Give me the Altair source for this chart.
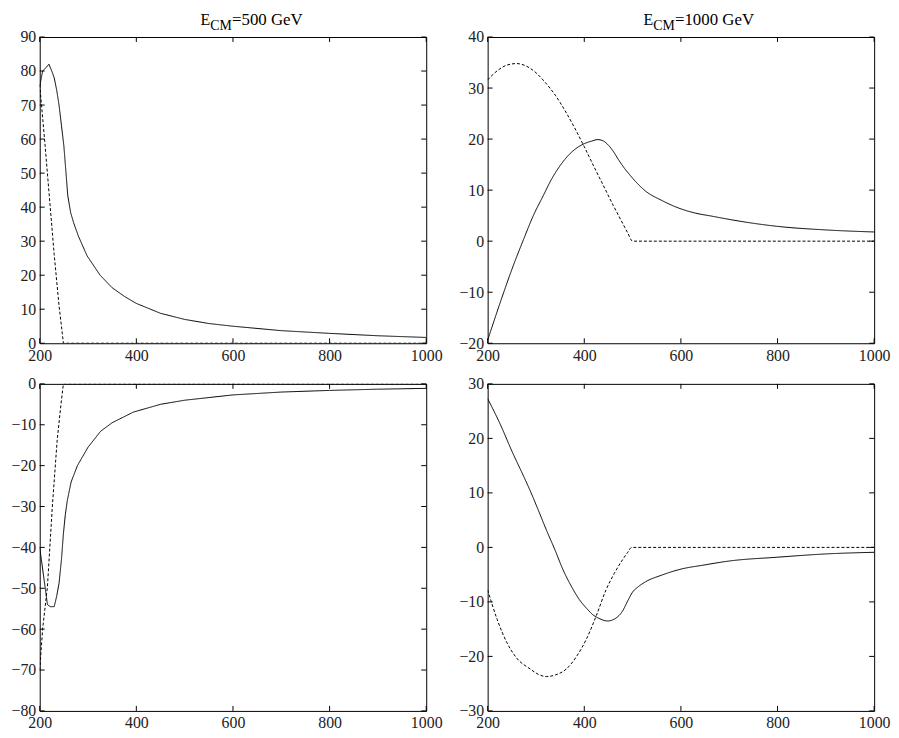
import altair as alt
import pandas as pd

# ---------------- data ----------------
x_ticks = [200, 400, 600, 800, 1000]
energies = ["500", "1000"]

# top-left (E_CM = 500 GeV)
p1_solid_x = [200, 206, 213, 219, 225, 230, 235, 240, 245, 250, 255, 258, 264, 270, 280, 298, 325, 350, 375, 400, 450, 500, 550, 600, 700, 800, 900, 1000]
p1_solid_y = [75.5, 80, 81, 82, 80, 78, 74.5, 70, 64, 58, 49, 43.5, 38.4, 35.5, 31.5, 25.7, 20, 16.3, 13.8, 11.7, 8.8, 7, 5.8, 5, 3.7, 2.9, 2.2, 1.7]
p1_dash_x = [200, 205, 210, 220, 230, 240, 245, 249, 1000]
p1_dash_y = [76, 68, 60, 43, 26, 11, 5, 0, 0]

# top-right (E_CM = 1000 GeV)
p2_solid_x = [200, 225, 253, 275, 294, 315, 332, 350, 370, 385, 400, 415, 428, 440, 450, 460, 472, 483, 495, 510, 527, 560, 595, 630, 664, 698, 750, 800, 900, 1000]
p2_solid_y = [-19.4, -12.3, -4.8, 0.5, 4.9, 8.9, 12.1, 14.8, 17.1, 18.3, 19.1, 19.6, 19.9, 19.6, 18.8, 17.6, 15.8, 14.3, 12.9, 11.3, 9.8, 8, 6.5, 5.5, 4.9, 4.3, 3.5, 2.9, 2.2, 1.8]
p2_dash_x = [200, 220, 240, 260, 280, 300, 320, 340, 360, 380, 400, 420, 440, 460, 480, 490, 500, 1000]
p2_dash_y = [31.6, 33.4, 34.5, 34.8, 34.3, 33.0, 31.0, 28.6, 25.6, 22.2, 18.5, 14.6, 10.8, 7.0, 3.4, 1.6, 0, 0]

# bottom-left (E_CM = 500 GeV)
p3_solid_x = [200, 208, 216, 222, 230, 235, 240, 245, 249, 253, 257, 265, 278, 300, 326, 350, 394, 450, 500, 600, 700, 800, 900, 1000]
p3_solid_y = [-40, -47, -54, -54.5, -54.5, -52, -48.8, -43, -36.7, -32, -28.6, -24, -20, -15.5, -11.6, -9.5, -6.9, -5, -4, -2.7, -2, -1.6, -1.3, -1.1]
p3_dash_x = [200, 206, 216, 226, 236, 244, 249, 1000]
p3_dash_y = [-70, -60, -49.6, -30.2, -14, -5, 0, 0]

# bottom-right (E_CM = 1000 GeV)
p4_solid_x = [200, 225, 253, 270, 288, 305, 322, 340, 356, 373, 390, 405, 417, 430, 448, 465, 479, 490, 500, 512, 527, 560, 595, 650, 700, 800, 900, 1000]
p4_solid_y = [27.3, 22.8, 17.1, 13.9, 10.4, 6.8, 3.1, -0.6, -4.1, -7.1, -9.6, -11.2, -12.3, -13.0, -13.5, -13.0, -11.7, -9.8, -8.2, -7.2, -6.3, -5.1, -4.1, -3.2, -2.5, -1.8, -1.2, -0.9]
p4_dash_x = [200, 220, 240, 260, 288, 305, 322, 340, 363, 384, 404, 425, 445, 462, 479, 490, 498, 1000]
p4_dash_y = [-7.8, -13.3, -17.5, -20.3, -22.3, -23.3, -23.7, -23.4, -22.3, -20.0, -16.9, -12.5, -7.8, -4.8, -2.3, -0.9, 0, 0]

y_ticks_1 = list(range(0, 91, 10))
y_ticks_2 = list(range(-20, 41, 10))
y_ticks_3 = list(range(-80, 1, 10))
y_ticks_4 = list(range(-30, 31, 10))

W = 390
H_TOP = 309
H_BOT = 330
FONT = "Liberation Serif"


def panel(sx, sy, dx, dy, ydom, yticks, H, interp, energy=None, ex=None):
    df = pd.DataFrame({
        "x": sx + dx,
        "y": sy + dy,
        "s": ["solid"] * len(sx) + ["dashed"] * len(dx),
    })
    xs = alt.Scale(domain=[200, 1000], nice=False, zero=False)
    ys = alt.Scale(domain=ydom, nice=False, zero=False)
    xaxis = alt.Axis(values=x_ticks, title=None, labelFlush=False, labelOverlap=False,
                     grid=False, format="d", labelPadding=4)
    yaxis = alt.Axis(values=yticks, title=None, labelFlush=False, labelOverlap=False,
                     grid=False, format="d", labelPadding=4)

    lines = alt.Chart(df).mark_line(color="black", strokeWidth=1, clip=True,
                                    interpolate=interp).encode(
        x=alt.X("x:Q", scale=xs, axis=xaxis),
        y=alt.Y("y:Q", scale=ys, axis=yaxis),
        strokeDash=alt.StrokeDash(
            "s:N",
            scale=alt.Scale(domain=["solid", "dashed"], range=[[1, 0], [3, 2]]),
            legend=None,
        ),
    )
    xt = alt.Chart(pd.DataFrame({"x": x_ticks}))
    yt = alt.Chart(pd.DataFrame({"y": yticks}))
    bottom = xt.mark_rule(color="black", strokeWidth=1).encode(
        x=alt.X("x:Q", scale=xs, axis=xaxis), y=alt.value(H), y2=alt.value(H - 5))
    top = xt.mark_rule(color="black", strokeWidth=1).encode(
        x=alt.X("x:Q", scale=xs, axis=xaxis), y=alt.value(0), y2=alt.value(5))
    left = yt.mark_rule(color="black", strokeWidth=1).encode(
        y=alt.Y("y:Q", scale=ys, axis=yaxis), x=alt.value(0), x2=alt.value(5))
    right = yt.mark_rule(color="black", strokeWidth=1).encode(
        y=alt.Y("y:Q", scale=ys, axis=yaxis), x=alt.value(W), x2=alt.value(W - 5))
    layers = [lines, bottom, top, left, right]
    if energy is not None:
        t1 = alt.Chart(pd.DataFrame({"t": ["E"]})).mark_text(
            font=FONT, fontSize=16, align="right", baseline="alphabetic", color="black"
        ).encode(text="t:N", x=alt.value(ex), y=alt.value(-12.6))
        t2 = alt.Chart(pd.DataFrame({"t": ["CM"]})).mark_text(
            font=FONT, fontSize=14, align="left", baseline="alphabetic", color="black"
        ).encode(text="t:N", x=alt.value(ex), y=alt.value(-7))
        t3 = alt.Chart(pd.DataFrame({"t": ["=" + energy + " GeV"]})).mark_text(
            font=FONT, fontSize=17, align="left", baseline="alphabetic", color="black"
        ).encode(text="t:N", x=alt.value(ex + 22), y=alt.value(-12.6))
        layers += [t1, t2, t3]
    return alt.layer(*layers).properties(width=W, height=H)


p1 = panel(p1_solid_x, p1_solid_y, p1_dash_x, p1_dash_y, [0, 90], y_ticks_1, H_TOP, "linear", energies[0], 172)
p2 = panel(p2_solid_x, p2_solid_y, p2_dash_x, p2_dash_y, [-20, 40], y_ticks_2, H_TOP, "monotone", energies[1], 167)
p3 = panel(p3_solid_x, p3_solid_y, p3_dash_x, p3_dash_y, [-80, 0], y_ticks_3, H_BOT, "linear")
p4 = panel(p4_solid_x, p4_solid_y, p4_dash_x, p4_dash_y, [-30, 30], y_ticks_4, H_BOT, "monotone")

chart = alt.concat(
    p1, p2, p3, p4, columns=2, spacing={"row": 41, "column": 62}, bounds="flush"
).properties(
    padding={"left": 2, "top": -2, "right": 0, "bottom": -3}
).configure_view(
    stroke="black", strokeWidth=1
).configure_axis(
    domain=False, ticks=False, tickSize=0, labelFont=FONT, labelFontSize=16,
    labelColor="#222"
)

chart.save("out.html", embed_options={"renderer": "svg", "actions": False})
